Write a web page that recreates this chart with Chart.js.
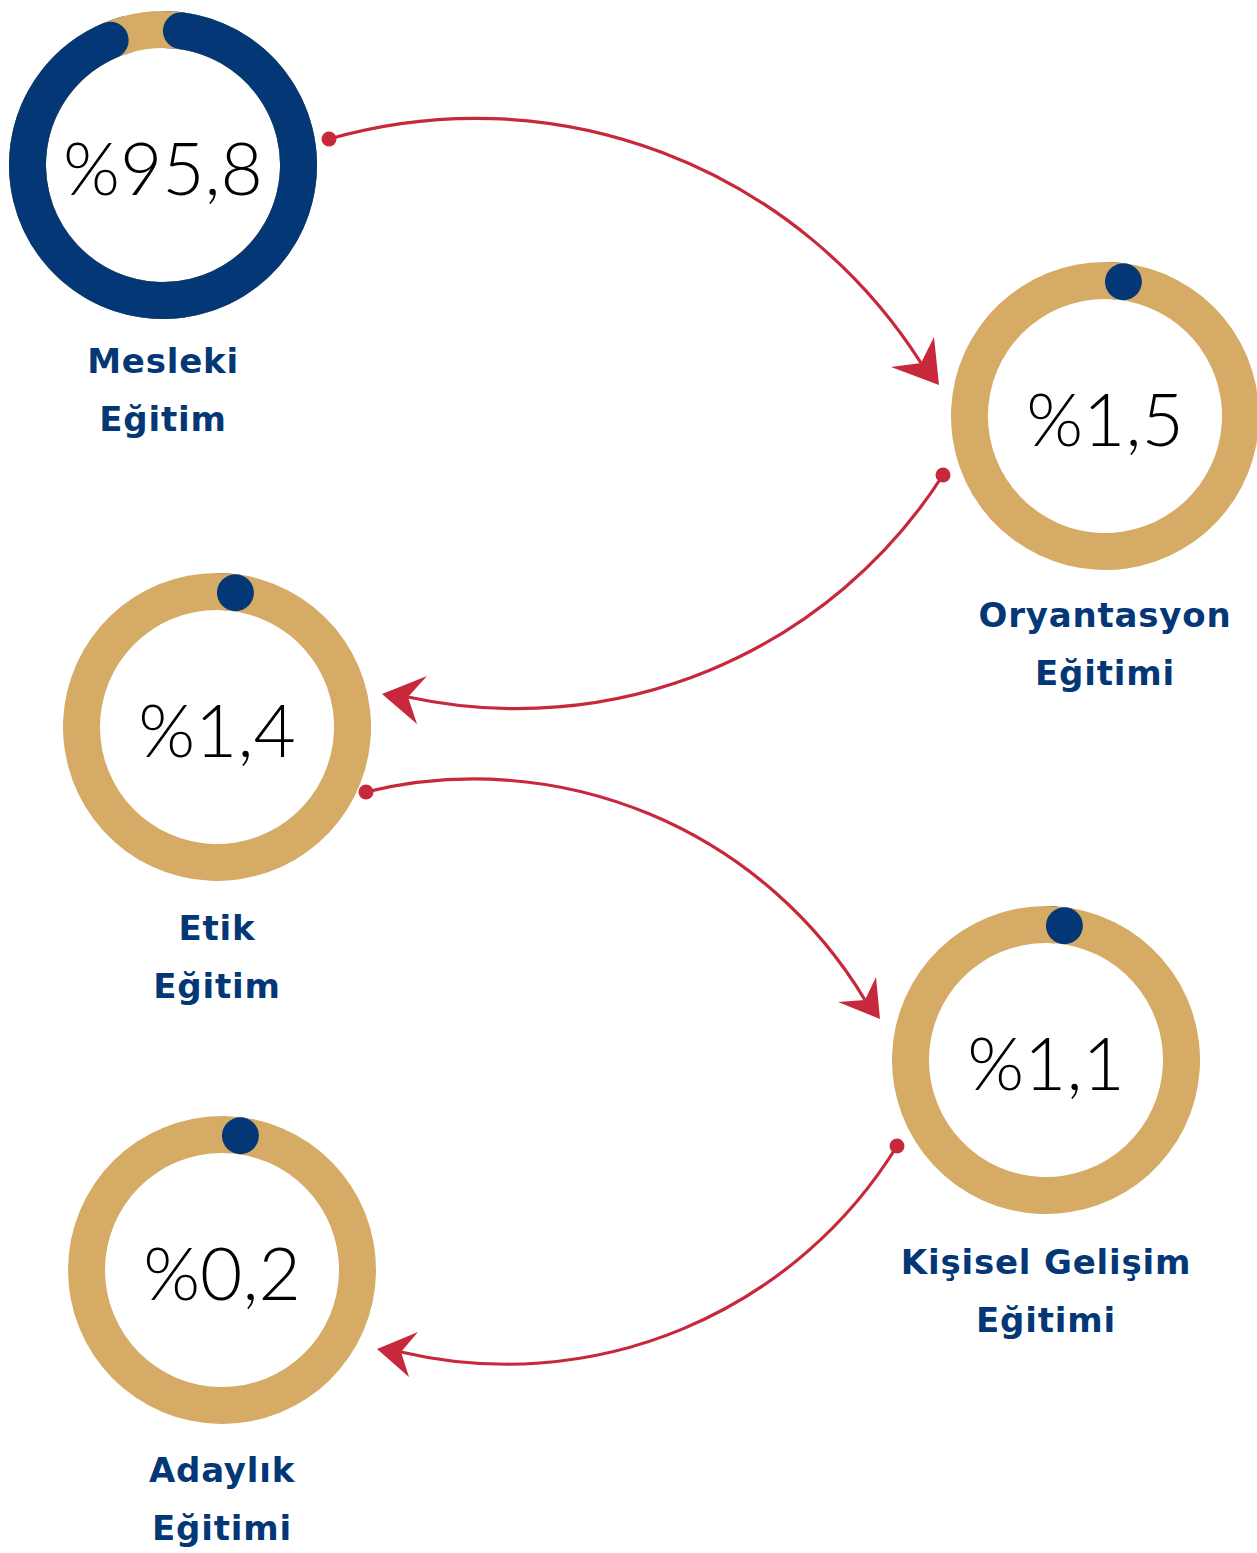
<!DOCTYPE html>
<html lang="tr">
<head>
<meta charset="utf-8">
<script src="https://cdn.jsdelivr.net/npm/chart.js@4.4.1/dist/chart.umd.min.js"></script>
<style>
  html, body { margin: 0; padding: 0; background: #ffffff; }
  #stage { position: relative; width: 1257px; height: 1553px; overflow: hidden; background: #fff; }
  .ring { position: absolute; width: 308px; height: 308px; }
  .ring canvas { display: block; }
  .center { position: absolute; width: 308px; height: 308px; display: flex; align-items: center; justify-content: center;
            font-family: "Lato", sans-serif; font-weight: 300; font-size: 73px; line-height: 1; color: #000; }
  .label { position: absolute; width: 420px; text-align: center; font-family: "DejaVu Sans", sans-serif; font-weight: 700;
           font-size: 34px; line-height: 58px; letter-spacing: 0.8px; color: #033776; white-space: nowrap; }
  svg { position: absolute; left: 0; top: 0; }
</style>
</head>
<body>
<div id="stage"></div>
<script>
// ---------- data ----------
const categories = [
  ['Mesleki', 'Eğitim'],
  ['Oryantasyon', 'Eğitimi'],
  ['Etik', 'Eğitim'],
  ['Kişisel Gelişim', 'Eğitimi'],
  ['Adaylık', 'Eğitimi']
];
const values = [95.8, 1.5, 1.4, 1.1, 0.2];
const valueLabels = ['%95,8', '%1,5', '%1,4', '%1,1', '%0,2'];

// ---------- layout / style (not data) ----------
const NAVY = '#033776';
const GOLD = '#D5AB65';
const RED  = '#C8283C';
const centers = [[163, 165], [1105, 416], [217, 727], [1046, 1060], [222, 1270]];
const labelBaselines = [373, 627, 940, 1274, 1482];
const SIZE = 308;

const stage = document.getElementById('stage');

// plugin: draws the value slice as a round-capped band on the track
const roundCap = {
  id: 'roundCap',
  afterDatasetsDraw(chart) {
    const arc = chart.getDatasetMeta(0).data[0];
    const p = arc.getProps(['x', 'y', 'startAngle', 'endAngle', 'innerRadius', 'outerRadius'], true);
    const ctx = chart.ctx;
    const th = p.outerRadius - p.innerRadius;
    const mid = (p.outerRadius + p.innerRadius) / 2;
    const cap = (th / 2) / mid;
    ctx.save();
    ctx.beginPath();
    ctx.arc(p.x, p.y, p.outerRadius, p.startAngle - 0.01, p.endAngle + 0.01);
    ctx.arc(p.x, p.y, p.innerRadius, p.endAngle + 0.01, p.startAngle - 0.01, true);
    ctx.closePath();
    ctx.fillStyle = GOLD;
    ctx.fill();
    const a0 = p.startAngle + cap;
    const a1 = Math.max(a0, p.endAngle - cap);
    ctx.fillStyle = NAVY;
    ctx.strokeStyle = NAVY;
    if (a1 - a0 < 1e-4) {
      ctx.beginPath();
      ctx.arc(p.x + mid * Math.cos(a0), p.y + mid * Math.sin(a0), th / 2, 0, Math.PI * 2);
      ctx.fill();
    } else {
      ctx.lineWidth = th;
      ctx.lineCap = 'round';
      ctx.beginPath();
      ctx.arc(p.x, p.y, mid, a0, a1);
      ctx.stroke();
    }
    ctx.restore();
  }
};

values.forEach((v, i) => {
  const [cx, cy] = centers[i];
  const wrap = document.createElement('div');
  wrap.className = 'ring';
  wrap.style.left = (cx - SIZE / 2) + 'px';
  wrap.style.top = (cy - SIZE / 2) + 'px';
  const cv = document.createElement('canvas');
  cv.width = SIZE; cv.height = SIZE;
  wrap.appendChild(cv);
  stage.appendChild(wrap);

  new Chart(cv, {
    type: 'doughnut',
    data: {
      labels: [categories[i].join(' '), ''],
      datasets: [{
        data: [v, 100 - v],
        backgroundColor: [NAVY, GOLD],
        borderWidth: 0,
        hoverOffset: 0
      }]
    },
    options: {
      responsive: false,
      animation: false,
      events: [],
      cutout: '76%',
      layout: { padding: 0 },
      plugins: { legend: { display: false }, tooltip: { enabled: false } }
    },
    plugins: [roundCap]
  });

  const c = document.createElement('div');
  c.className = 'center';
  c.style.left = (cx - SIZE / 2) + 'px';
  c.style.top = (cy - SIZE / 2 + 2) + 'px';
  c.textContent = valueLabels[i];
  stage.appendChild(c);

  const l = document.createElement('div');
  l.className = 'label';
  l.style.left = (cx - 210) + 'px';
  l.style.top = (labelBaselines[i] - 41) + 'px';
  l.innerHTML = categories[i].map(s => '<div>' + s + '</div>').join('');
  stage.appendChild(l);
});

// ---------- decorative connecting arrows (circular arcs) ----------
const arrowArcs = [
  { from: [329, 139], to: [921, 363], r: 528 },
  { from: [943, 475], to: [408, 697], r: 507 },
  { from: [366, 792], to: [865, 1000], r: 456 },
  { from: [897, 1146], to: [401, 1352], r: 459 }
];
const arrowHeads = [
  [[939,385],[891,367],[921,363],[934,337]],
  [[382,694],[427,676],[408,697],[417,724]],
  [[880,1019],[838,1002],[865,1000],[876,977]],
  [[377,1349],[418,1332],[401,1352],[409,1377]]
];
const NS = 'http://www.w3.org/2000/svg';
const svg = document.createElementNS(NS, 'svg');
svg.setAttribute('width', 1257); svg.setAttribute('height', 1553);
arrowArcs.forEach((a, i) => {
  const path = document.createElementNS(NS, 'path');
  path.setAttribute('d', `M${a.from[0]} ${a.from[1]} A${a.r} ${a.r} 0 0 1 ${a.to[0]} ${a.to[1]}`);
  path.setAttribute('fill', 'none');
  path.setAttribute('stroke', RED);
  path.setAttribute('stroke-width', 3.2);
  svg.appendChild(path);
  const dot = document.createElementNS(NS, 'circle');
  dot.setAttribute('cx', a.from[0]); dot.setAttribute('cy', a.from[1]);
  dot.setAttribute('r', 7.5); dot.setAttribute('fill', RED);
  svg.appendChild(dot);
  const head = document.createElementNS(NS, 'polygon');
  head.setAttribute('points', arrowHeads[i].map(p => p.join(',')).join(' '));
  head.setAttribute('fill', RED);
  svg.appendChild(head);
});
stage.appendChild(svg);
</script>
</body>
</html>
